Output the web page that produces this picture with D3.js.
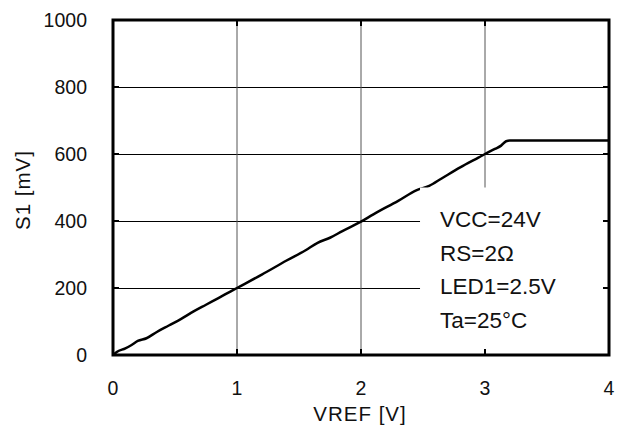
<!DOCTYPE html>
<html>
<head>
<meta charset="utf-8">
<script src="https://cdn.jsdelivr.net/npm/d3@7/dist/d3.min.js"></script>
<style>
  body { margin: 0; background: #fff; }
  text { font-family: Arial, "Liberation Sans", sans-serif; fill: #111; }
</style>
</head>
<body>
<div id="chart"></div>
<script>
// S1 vs VREF curve
var vref = [0, 0.03, 0.1, 0.15, 0.2, 0.27, 0.35, 0.45, 0.55, 0.65, 0.75, 0.85, 0.95, 1.0,
            1.2, 1.4, 1.55, 1.65, 1.75, 1.85, 2.0, 2.1, 2.3, 2.45, 2.55, 2.65, 2.8, 2.95,
            3.0, 3.08, 3.13, 3.17, 3.2, 4.0];
var s1 = [0, 9, 20, 30, 42, 50, 68, 88, 108, 130, 150, 170, 190, 200,
          240, 282, 312, 335, 350, 370, 398, 420, 460, 492, 505, 527, 560, 590,
          600, 615, 625, 638, 640, 640];
var xTicks = [0, 1, 2, 3, 4];
var yTicks = [0, 200, 400, 600, 800, 1000];
var notes = ["VCC=24V", "RS=2\u03a9", "LED1=2.5V", "Ta=25\u00b0C"];

var width = 627, height = 430;
var plotL = 113, plotR = 609, plotT = 20, plotB = 355;

var x = d3.scaleLinear().domain([0, 4]).range([plotL, plotR]);
var y = d3.scaleLinear().domain([0, 1000]).range([plotB, plotT]);

var svg = d3.select("#chart")
    .append("svg")
    .attr("width", width)
    .attr("height", height);

// grid
svg.selectAll(".gy")
    .data(yTicks)
    .enter()
    .append("line")
    .attr("x1", plotL).attr("x2", plotR)
    .attr("y1", function (d) { return y(d) + 0.5; })
    .attr("y2", function (d) { return y(d) + 0.5; })
    .attr("stroke", "#000")
    .attr("stroke-width", 1);

svg.selectAll(".gx")
    .data(xTicks)
    .enter()
    .append("line")
    .attr("x1", function (d) { return x(d); })
    .attr("x2", function (d) { return x(d); })
    .attr("y1", plotT).attr("y2", plotB)
    .attr("stroke", "#555")
    .attr("stroke-width", 1);

// curve
var pts = vref.map(function (v, i) { return [v, s1[i]]; });
var line = d3.line()
    .x(function (d) { return x(d[0]); })
    .y(function (d) { return y(d[1]); })
    .curve(d3.curveMonotoneX);

svg.append("path")
    .datum(pts)
    .attr("d", line)
    .attr("fill", "none")
    .attr("stroke", "#000")
    .attr("stroke-width", 2.5)
    .attr("stroke-linejoin", "round");

// white box behind the notes
svg.append("rect")
    .attr("x", x(2.476))
    .attr("y", y(500))
    .attr("width", plotR - x(2.476))
    .attr("height", plotB - y(500))
    .attr("fill", "#fff");

svg.selectAll(".note")
    .data(notes)
    .enter()
    .append("text")
    .attr("x", 440)
    .attr("y", function (d, i) { return 227 + i * 33.5; })
    .attr("font-size", 22.5)
    .text(function (d) { return d; });

// inward ticks on all four sides
var tk = 6;
xTicks.forEach(function (d) {
    svg.append("line").attr("x1", x(d)).attr("x2", x(d))
        .attr("y1", plotB).attr("y2", plotB - tk)
        .attr("stroke", "#000").attr("stroke-width", 2);
    svg.append("line").attr("x1", x(d)).attr("x2", x(d))
        .attr("y1", plotT).attr("y2", plotT + tk)
        .attr("stroke", "#000").attr("stroke-width", 2);
});
yTicks.forEach(function (d) {
    svg.append("line").attr("x1", plotL).attr("x2", plotL + tk)
        .attr("y1", y(d)).attr("y2", y(d))
        .attr("stroke", "#000").attr("stroke-width", 2);
    svg.append("line").attr("x1", plotR).attr("x2", plotR - tk)
        .attr("y1", y(d)).attr("y2", y(d))
        .attr("stroke", "#000").attr("stroke-width", 2);
});

// frame
svg.append("rect")
    .attr("x", plotL).attr("y", plotT)
    .attr("width", plotR - plotL).attr("height", plotB - plotT)
    .attr("fill", "none")
    .attr("stroke", "#000")
    .attr("stroke-width", 3);

// tick labels
svg.selectAll(".xl")
    .data(xTicks)
    .enter()
    .append("text")
    .attr("x", function (d) { return x(d); })
    .attr("y", 395)
    .attr("text-anchor", "middle")
    .attr("font-size", 19.5)
    .text(function (d) { return d; });

svg.selectAll(".yl")
    .data(yTicks)
    .enter()
    .append("text")
    .attr("x", 87)
    .attr("y", function (d) { return y(d) + 7; })
    .attr("text-anchor", "end")
    .attr("font-size", 19.5)
    .text(function (d) { return d; });

// axis titles
svg.append("text")
    .attr("x", 360)
    .attr("y", 421)
    .attr("text-anchor", "middle")
    .attr("font-size", 20.5)
    .attr("letter-spacing", 1)
    .text("VREF [V]");

svg.append("text")
    .attr("transform", "translate(30,190) rotate(-90)")
    .attr("text-anchor", "middle")
    .attr("font-size", 20.5)
    .attr("letter-spacing", 1)
    .text("S1 [mV]");
</script>
</body>
</html>
